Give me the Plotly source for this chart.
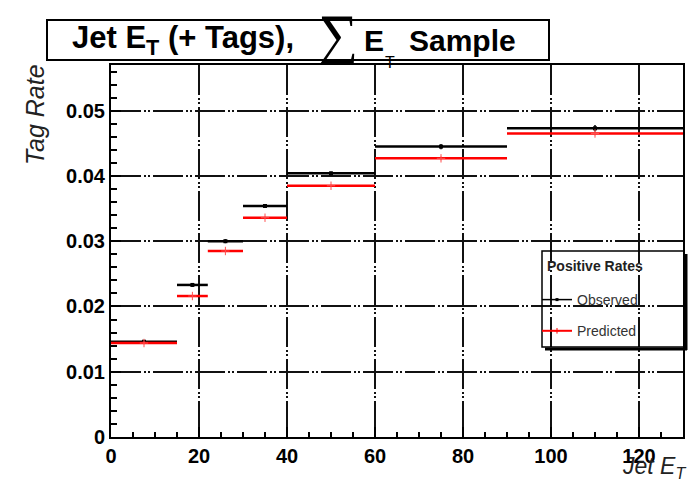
import plotly.graph_objects as go

# ---- data ----
bin_lo = [0, 15, 22, 30, 40, 60, 90]
bin_hi = [15, 22, 30, 40, 60, 90, 130]
observed = [0.0146, 0.0233, 0.0300, 0.0354, 0.0404, 0.0445, 0.0473]
observed_err = [0.0002, 0.0003, 0.0003, 0.0003, 0.0003, 0.0004, 0.0005]
predicted = [0.0144, 0.0216, 0.0285, 0.0336, 0.0385, 0.0427, 0.0465]
predicted_err = [0.0002, 0.0002, 0.0002, 0.0002, 0.0002, 0.0003, 0.0003]

centers = [(a + b) / 2 for a, b in zip(bin_lo, bin_hi)]
half_w = [(b - a) / 2 for a, b in zip(bin_lo, bin_hi)]

W, H = 693, 484
L, R, T, B = 111, 10, 65, 47
PW, PH = W - L - R, H - T - B


def px(x):
    return (x - L) / PW


def py(y):
    return (H - B - y) / PH


FONT = "Liberation Sans, Arial, Helvetica, sans-serif"

fig = go.Figure()

fig.add_trace(go.Scatter(
    x=centers, y=observed, mode="markers", name="Observed", showlegend=False,
    marker=dict(symbol="square", size=4, color="black"),
    error_x=dict(type="data", array=half_w, width=0, thickness=2.5, color="black"),
    error_y=dict(type="data", array=observed_err, width=0, thickness=1.5, color="black"),
))
fig.add_trace(go.Scatter(
    x=centers, y=predicted, mode="markers", name="Predicted", showlegend=False,
    marker=dict(symbol="cross-thin", size=6, color="#ff5050", line=dict(color="#ff5050", width=1)),
    error_x=dict(type="data", array=half_w, width=0, thickness=2.5, color="#ff0000"),
    error_y=dict(type="data", array=predicted_err, width=0, thickness=1, color="#ff6060"),
))

# legend entries
fig.add_trace(go.Scatter(
    x=[None], y=[None], mode="lines+markers", name="Observed", legendgroup="a",
    line=dict(color="black", width=1.5), marker=dict(symbol="square", size=3, color="black"),
))
fig.add_trace(go.Scatter(
    x=[None], y=[None], mode="lines+markers", name="Predicted", legendgroup="b",
    line=dict(color="red", width=2), marker=dict(symbol="cross-thin", size=4, color="red",
                                                line=dict(color="red", width=1)),
))

GRIDDASH = "30px,3px,2px,2px,2px,3px"
tickfont = dict(family=FONT, size=20, color="black", weight="bold")

fig.update_xaxes(
    range=[0, 130], tick0=0, dtick=20, showline=True, linecolor="black", linewidth=2,
    mirror=True, ticks="inside", ticklen=10, tickwidth=2, tickcolor="black",
    showgrid=True, gridcolor="#111111", gridwidth=2, griddash=GRIDDASH, zeroline=False,
    minor=dict(dtick=5, ticks="inside", ticklen=5, tickwidth=2, tickcolor="black", showgrid=False),
    tickfont=tickfont,
)
fig.update_yaxes(
    range=[0, 0.057], tick0=0, dtick=0.01, showline=True, linecolor="black", linewidth=2,
    mirror=True, ticks="inside", ticklen=10, tickwidth=2, tickcolor="black",
    showgrid=True, gridcolor="#111111", gridwidth=2, griddash=GRIDDASH, zeroline=False,
    minor=dict(dtick=0.002, ticks="inside", ticklen=6, tickwidth=2, tickcolor="black", showgrid=False),
    tickfont=tickfont,
)

annotations = [
    dict(text="<b>Jet E<sub>T</sub> (+ Tags),</b>", x=px(70), y=py(40), xanchor="left", yanchor="middle",
         font=dict(family=FONT, size=31, color="black")),
    dict(text="\u2211", x=px(316), y=py(33), xanchor="left", yanchor="middle",
         font=dict(family="DejaVu Sans", size=56, color="black", weight=200)),
    dict(text="<b>E</b>", x=px(362), y=py(40), xanchor="left", yanchor="middle",
         font=dict(family=FONT, size=30, color="black")),
    dict(text="<b>Sample</b>", x=px(407), y=py(40), xanchor="left", yanchor="middle",
         font=dict(family=FONT, size=30, color="black")),
    dict(text="T", x=px(390), y=py(62), xanchor="center", yanchor="middle",
         font=dict(family=FONT, size=16, color="black")),
    dict(text="<i>Tag Rate</i>", x=px(35), y=py(115), xanchor="center", yanchor="middle", textangle=-90,
         font=dict(family=FONT, size=25, color="#222222")),
    dict(text="<i>Jet E<sub>T</sub></i>", x=px(688), y=py(484), xanchor="right", yanchor="bottom",
         font=dict(family=FONT, size=23, color="#222222")),
    dict(text="<b>Positive Rates</b>", x=px(545), y=py(266), xanchor="left", yanchor="middle",
         font=dict(family=FONT, size=14, color="#222222")),
]
for a in annotations:
    a.update(xref="paper", yref="paper", showarrow=False)

shapes = [
    dict(type="rect", xref="paper", yref="paper", x0=px(47), x1=px(549), y0=py(60), y1=py(20),
         line=dict(color="black", width=2), fillcolor="rgba(0,0,0,0)"),
    # legend frame and shadow
    dict(type="rect", xref="paper", yref="paper", x0=px(542), x1=px(684), y0=py(347), y1=py(251),
         line=dict(color="black", width=1.5), fillcolor="rgba(0,0,0,0)"),
    dict(type="line", xref="paper", yref="paper", x0=px(686), x1=px(686), y0=py(254), y1=py(350),
         line=dict(color="black", width=3)),
    dict(type="line", xref="paper", yref="paper", x0=px(545), x1=px(687), y0=py(349), y1=py(349),
         line=dict(color="black", width=3)),
]

fig.update_layout(
    width=W, height=H, margin=dict(l=L, r=R, t=T, b=B, autoexpand=False),
    plot_bgcolor="white", paper_bgcolor="white",
    annotations=annotations, shapes=shapes,
    legend=dict(x=px(537), y=py(284), xanchor="left", yanchor="top",
                bgcolor="rgba(0,0,0,0)", borderwidth=0,
                font=dict(family=FONT, size=14, color="#333333"),
                tracegroupgap=10, itemwidth=30),
)

fig.write_html("out.html")
